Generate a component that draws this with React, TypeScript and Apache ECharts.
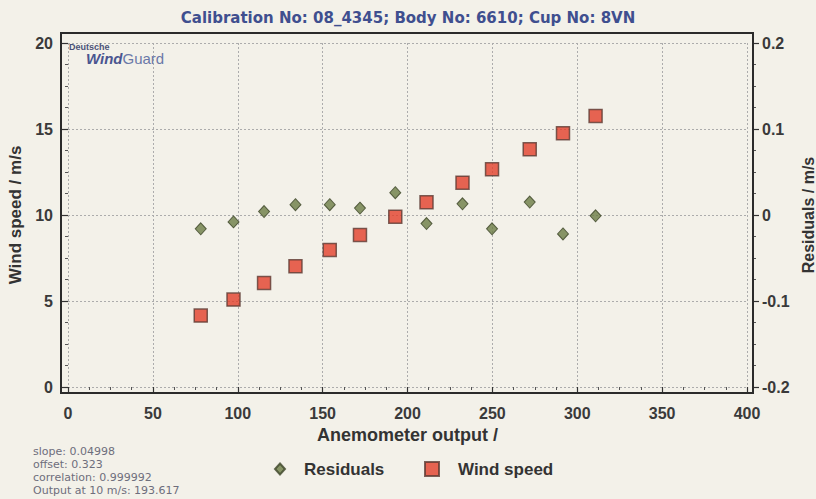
import React, { useEffect, useRef } from "react";
import * as echarts from "echarts";

const anemometerOutput = [78.2, 97.5, 115.5, 134.0, 154.2, 172.0, 192.8, 211.2, 232.4, 249.8, 272.0, 291.6, 310.8];
const windSpeed = [4.15, 5.08, 6.05, 7.02, 7.97, 8.84, 9.9, 10.74, 11.88, 12.66, 13.82, 14.75, 15.76];
const residuals = [-0.016, -0.008, 0.004, 0.012, 0.012, 0.008, 0.026, -0.01, 0.013, -0.016, 0.015, -0.022, -0.001];
const statLines = ["slope: 0.04998", "offset: 0.323", "correlation: 0.999992", "Output at 10 m/s: 193.617"];
const titleText = "Calibration No: 08_4345; Body No: 6610; Cup No: 8VN";

const FONT = "'Liberation Sans', Arial, sans-serif";
const WIDE = "'DejaVu Sans', 'Liberation Sans', sans-serif";
const BG = "#f3f1e9";

export default function App() {
  const ref = useRef<HTMLDivElement>(null);
  useEffect(() => {
    if (!ref.current) return;
    const chart = echarts.init(ref.current, null, { renderer: "svg" });
    const labelStyle = { fontFamily: FONT, fontWeight: "bold", fontSize: 16, color: "#3a3a3a" };
    const tickStyle = { show: true, length: 6, lineStyle: { color: "#333", width: 1.2 } };
    const minor = { show: true, splitNumber: 4, length: 3, lineStyle: { color: "#555", width: 1 } };
    const grid = { show: true, lineStyle: { color: "#acacac", type: [2, 2], width: 1 } };
    const statTexts = statLines.map((line, i) => ({
      type: "text",
      x: 33,
      y: 446 + i * 13,
      style: { text: line, font: `11px ${WIDE}`, fill: "#6e6e7c" },
      z: 10,
    }));
    chart.setOption({
      animation: false,
      backgroundColor: BG,
      textStyle: { fontFamily: FONT },
      title: {
        text: titleText,
        left: "center",
        top: 10,
        padding: 0,
        textStyle: { fontFamily: WIDE, fontWeight: "bold", fontSize: 15, color: "#3f4f8f" },
      },
      grid: { left: 68, right: 69, top: 43, bottom: 112, containLabel: false, outerBoundsMode: "none" },
      xAxis: {
        type: "value",
        min: 0,
        max: 400,
        interval: 50,
        offset: 6,
        name: "Anemometer output /",
        nameLocation: "middle",
        nameGap: 33,
        nameTextStyle: { fontFamily: FONT, fontWeight: "bold", fontSize: 18, color: "#333" },
        axisLine: { show: false },
        axisTick: tickStyle,
        minorTick: minor,
        axisLabel: { ...labelStyle, margin: 12 },
        splitLine: grid,
      },
      yAxis: [
        {
          type: "value",
          position: "left",
          min: 0,
          max: 20,
          interval: 5,
          offset: 7,
          name: "Wind speed / m/s",
          nameLocation: "middle",
          nameGap: 33,
          nameTextStyle: { fontFamily: FONT, fontWeight: "bold", fontSize: 17, color: "#333" },
          axisLine: { show: false },
          axisTick: tickStyle,
          minorTick: minor,
          axisLabel: { ...labelStyle, margin: 8 },
          splitLine: grid,
        },
        {
          type: "value",
          position: "right",
          min: -0.2,
          max: 0.2,
          interval: 0.1,
          offset: 6,
          name: "Residuals / m/s",
          nameLocation: "middle",
          nameGap: 42,
          nameTextStyle: { fontFamily: FONT, fontWeight: "bold", fontSize: 16, color: "#333" },
          axisLine: { show: false },
          axisTick: tickStyle,
          minorTick: minor,
          axisLabel: {
            ...labelStyle,
            margin: 9,
            formatter: (v: number) => String(+v.toFixed(1)),
          },
          splitLine: { show: false },
        },
      ],
      legend: [
        {
          data: [{ name: "Residuals", icon: "diamond" }],
          left: 274,
          top: 459,
          padding: 0,
          itemWidth: 10,
          itemHeight: 11,
          textStyle: { fontFamily: FONT, fontWeight: "bold", fontSize: 17, color: "#333", padding: [0, 0, 0, 14], lineHeight: 20 },
        },
        {
          data: [{ name: "Wind speed", icon: "rect" }],
          left: 424,
          top: 459,
          padding: 0,
          itemWidth: 14,
          itemHeight: 14,
          textStyle: { fontFamily: FONT, fontWeight: "bold", fontSize: 17, color: "#333", padding: [0, 0, 0, 14], lineHeight: 20 },
        },
      ],
      series: [
        {
          name: "Residuals",
          type: "scatter",
          yAxisIndex: 1,
          symbol: "diamond",
          symbolSize: [11, 12],
          itemStyle: { color: "#6c7d45", borderColor: "#3c4528", borderWidth: 1 },
          data: anemometerOutput.map((x, i) => [x, residuals[i]]),
          z: 3,
        },
        {
          name: "Wind speed",
          type: "scatter",
          yAxisIndex: 0,
          symbol: "rect",
          symbolSize: 13,
          itemStyle: { color: "#e2402b", borderColor: "#5c3b33", borderWidth: 1.5 },
          data: anemometerOutput.map((x, i) => [x, windSpeed[i]]),
          z: 3,
        },
      ],
      graphic: [
        {
          type: "rect",
          shape: { x: 61, y: 33, width: 692, height: 360 },
          style: { fill: "none", stroke: "#2b2b2b", lineWidth: 2 },
          z: 10,
          silent: true,
        },
        {
          type: "text",
          x: 69,
          y: 42,
          style: { text: "Deutsche", font: `bold 9px ${FONT}`, fill: "#4b5278" },
          z: 10,
        },
        {
          type: "text",
          x: 86,
          y: 51,
          style: {
            text: "{a|Wind}{b|Guard}",
            rich: {
              a: { fontFamily: FONT, fontSize: 15, fontWeight: "bold", fontStyle: "italic", fill: "#4a5590", color: "#4a5590" },
              b: { fontFamily: FONT, fontSize: 15, fill: "#6a78a8", color: "#6a78a8" },
            },
          },
          z: 10,
        },
        ...statTexts,
      ],
    });
    return () => chart.dispose();
  }, []);
  return (
    <div
      ref={ref}
      style={{ position: "fixed", left: 0, top: 0, width: 816, height: 499, background: BG }}
    />
  );
}
